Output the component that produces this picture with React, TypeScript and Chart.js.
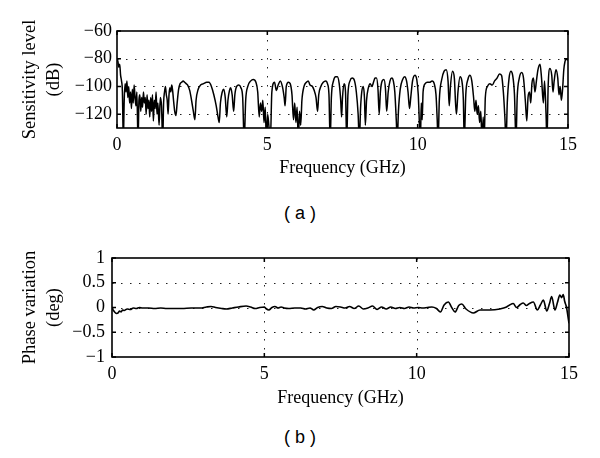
import React, { useEffect, useRef } from "react";
import { Chart, registerables } from "chart.js";

Chart.register(...registerables);

// ---------- Data: (a) Sensitivity level (dB) vs frequency (GHz) ----------
const freqA = [
  0.00, 0.03, 0.06, 0.09, 0.12, 0.15, 0.18, 0.21, 0.24, 0.27,
  0.30, 0.33, 0.36, 0.39, 0.42, 0.45, 0.48, 0.51, 0.54, 0.57,
  0.60, 0.63, 0.66, 0.70, 0.73, 0.76, 0.79, 0.82, 0.85, 0.88,
  0.91, 0.94, 0.97, 1.00, 1.03, 1.06, 1.09, 1.12, 1.15, 1.18,
  1.21, 1.24, 1.27, 1.30, 1.33, 1.36, 1.40, 1.44, 1.48, 1.52,
  1.55, 1.58, 1.61, 1.64, 1.67, 1.70, 1.73, 1.76, 1.79, 1.82,
  1.85, 1.88, 1.92, 1.96, 2.00, 2.05, 2.10, 2.15, 2.20, 2.25,
  2.30, 2.35, 2.42, 2.48, 2.54, 2.59, 2.63, 2.70, 2.78, 2.88,
  2.98, 3.06, 3.14, 3.22, 3.30, 3.36, 3.40, 3.44, 3.50, 3.55,
  3.60, 3.65, 3.69, 3.74, 3.78, 3.83, 3.88, 3.92, 3.98, 4.05,
  4.12, 4.18, 4.23, 4.28, 4.35, 4.45, 4.53, 4.62, 4.68, 4.73,
  4.77, 4.81, 4.85, 4.89, 4.93, 4.97, 5.01, 5.05, 5.10, 5.15,
  5.24, 5.30, 5.36, 5.43, 5.50, 5.56, 5.59, 5.63, 5.70, 5.76,
  5.82, 5.87, 5.91, 5.95, 5.99, 6.03, 6.07, 6.11, 6.15, 6.22,
  6.30, 6.36, 6.42, 6.50, 6.56, 6.62, 6.67, 6.71, 6.78, 6.86,
  6.94, 7.00, 7.05, 7.09, 7.13, 7.20, 7.27, 7.33, 7.39, 7.44,
  7.47, 7.50, 7.55, 7.60, 7.64, 7.68, 7.75, 7.82, 7.90, 7.96,
  8.02, 8.06, 8.10, 8.14, 8.19, 8.23, 8.26, 8.30, 8.36, 8.42,
  8.48, 8.53, 8.58, 8.63, 8.68, 8.72, 8.76, 8.82, 8.88, 8.93,
  8.97, 9.02, 9.08, 9.14, 9.19, 9.24, 9.29, 9.32, 9.36, 9.42,
  9.50, 9.57, 9.63, 9.68, 9.73, 9.77, 9.83, 9.91, 9.97, 10.02,
  10.06, 10.09, 10.12, 10.15, 10.18, 10.25, 10.32, 10.40, 10.48, 10.55,
  10.61, 10.65, 10.68, 10.72, 10.80, 10.88, 10.95, 11.01, 11.05, 11.09,
  11.16, 11.22, 11.26, 11.29, 11.34, 11.41, 11.47, 11.52, 11.55, 11.60,
  11.67, 11.74, 11.80, 11.86, 11.90, 11.94, 11.98, 12.02, 12.06, 12.10,
  12.14, 12.18, 12.21, 12.25, 12.32, 12.40, 12.48, 12.56, 12.64, 12.72,
  12.79, 12.85, 12.90, 12.94, 12.98, 13.04, 13.10, 13.16, 13.22, 13.27,
  13.31, 13.38, 13.46, 13.52, 13.58, 13.63, 13.67, 13.72, 13.76, 13.80,
  13.85, 13.90, 13.95, 14.00, 14.07, 14.12, 14.18, 14.22, 14.27, 14.30,
  14.34, 14.40, 14.46, 14.50, 14.54, 14.60, 14.66, 14.70, 14.74, 14.78,
  14.82, 14.86, 14.90, 14.94, 14.98, 15.00,
];
const levelA = [
  -80, -82, -86, -84, -92, -96, -104, -140, -110, -98,
  -104, -96, -108, -100, -112, -104, -116, -102, -112, -99,
  -108, -114, -104, -140, -110, -106, -118, -108, -115, -104,
  -112, -108, -120, -106, -116, -110, -122, -108, -118, -106,
  -125, -110, -116, -104, -120, -112, -128, -108, -114, -140,
  -112, -104, -100, -106, -110, -120, -106, -101, -104, -99,
  -103, -110, -118, -121, -112, -102, -98, -97, -96, -97,
  -98, -99, -103, -110, -118, -124, -110, -102, -99, -98,
  -97, -97, -100, -106, -114, -122, -126, -112, -104, -102,
  -108, -122, -110, -103, -101, -106, -118, -106, -100, -99,
  -101, -108, -140, -110, -100, -96, -95, -97, -104, -122,
  -112, -118, -110, -126, -115, -140, -120, -128, -140, -104,
  -97, -103, -99, -96, -100, -108, -114, -100, -97, -98,
  -106, -124, -112, -126, -115, -140, -118, -128, -110, -100,
  -97, -96, -99, -100, -103, -108, -118, -106, -100, -97,
  -96, -98, -106, -140, -108, -96, -93, -93, -98, -110,
  -122, -108, -98, -104, -140, -106, -96, -94, -96, -104,
  -120, -140, -116, -104, -100, -108, -128, -110, -101, -98,
  -100, -97, -94, -94, -102, -120, -104, -96, -95, -102,
  -118, -104, -96, -94, -96, -104, -125, -140, -118, -102,
  -95, -93, -96, -104, -116, -108, -96, -92, -95, -106,
  -128, -140, -112, -124, -104, -98, -97, -97, -96, -98,
  -106, -124, -140, -110, -95, -89, -88, -96, -114, -100,
  -89, -94, -112, -120, -104, -93, -96, -110, -140, -106,
  -95, -92, -96, -108, -118, -110, -120, -114, -126, -118,
  -140, -122, -140, -108, -100, -98, -99, -96, -94, -91,
  -92, -104, -122, -140, -112, -94, -89, -92, -106, -140,
  -108, -94, -90, -94, -110, -125, -108, -104, -112, -98,
  -94, -104, -96, -88, -84, -94, -112, -96, -120, -140,
  -100, -87, -92, -104, -96, -88, -94, -106, -100, -110,
  -102, -88, -82, -80, -81, -80,
];

// ---------- Data: (b) Phase variation (deg) vs frequency (GHz) ----------
const freqB = [
  0.00, 0.05, 0.10, 0.15, 0.20, 0.25, 0.30, 0.35, 0.40, 0.50,
  0.60, 0.70, 0.80, 0.90, 1.00, 1.20, 1.40, 1.60, 1.80, 2.00,
  2.30, 2.60, 2.90, 3.10, 3.25, 3.40, 3.60, 3.75, 3.95, 4.15,
  4.40, 4.55, 4.70, 4.85, 5.00, 5.05, 5.15, 5.25, 5.35, 5.45,
  5.55, 5.65, 5.80, 6.00, 6.20, 6.35, 6.50, 6.62, 6.75, 6.90,
  7.05, 7.20, 7.35, 7.50, 7.65, 7.80, 7.95, 8.10, 8.25, 8.40,
  8.55, 8.70, 8.85, 9.00, 9.15, 9.30, 9.45, 9.60, 9.75, 9.90,
  10.05, 10.20, 10.35, 10.50, 10.65, 10.78, 10.90, 11.04, 11.15, 11.26,
  11.38, 11.48, 11.62, 11.86, 12.08, 12.40, 12.73, 12.95, 13.05, 13.17,
  13.28, 13.40, 13.50, 13.60, 13.70, 13.83, 13.96, 14.06, 14.16, 14.27,
  14.36, 14.43, 14.54, 14.62, 14.70, 14.76, 14.81, 14.86, 14.92, 14.97,
  15.00,
];
const phaseB = [
  -0.02, -0.06, -0.10, -0.12, -0.11, -0.07, -0.09, -0.05, -0.06, -0.03,
  -0.04, -0.01, -0.02, 0.00, -0.01, -0.01, -0.02, -0.01, -0.02, -0.02,
  -0.02, -0.01, -0.01, 0.01, 0.02, 0.00, -0.02, -0.03, -0.01, 0.01,
  0.03, 0.01, -0.02, 0.00, 0.01, -0.02, -0.05, 0.00, 0.02, -0.01,
  0.01, -0.01, -0.02, -0.01, -0.01, -0.03, -0.01, -0.05, 0.00, 0.02,
  -0.01, -0.02, 0.02, 0.01, -0.01, 0.02, -0.02, 0.03, -0.03, -0.01,
  0.03, -0.04, 0.01, -0.03, 0.01, -0.02, 0.00, -0.02, 0.01, -0.01,
  0.00, -0.01, 0.00, 0.01, -0.02, -0.09, 0.05, 0.11, 0.00, -0.09,
  0.04, 0.07, -0.03, -0.11, -0.05, -0.05, -0.03, 0.01, 0.05, 0.08,
  0.00, 0.06, 0.09, 0.04, 0.08, 0.11, -0.05, 0.05, 0.15, -0.07,
  0.08, 0.22, -0.05, 0.10, 0.25, 0.20, 0.26, 0.12, 0.00, -0.20,
  -0.32,
];

// ---------- Axis ticks ----------
const freqTicks = [0, 5, 10, 15];
const levelTicks = [-120, -100, -80, -60];
const phaseTicks = [-1, -0.5, 0, 0.5, 1];

const SERIF = "'Liberation Serif', 'Times New Roman', serif";

const fmt = (v: number) => (v < 0 ? "\u2212" + String(Math.abs(v)) : String(v));

const framePlugin = {
  id: "matlabFrame",
  beforeDatasetsDraw(chart: any) {
    const { ctx, chartArea: a, scales } = chart;
    const xs = scales.x;
    const ys = scales.y;
    ctx.save();
    ctx.strokeStyle = "#222";
    ctx.lineWidth = 1;
    ctx.setLineDash([1.5, 7.5]);
    xs.ticks.forEach((t: any) => {
      if (t.value <= xs.min || t.value >= xs.max) return;
      const px = Math.round(xs.getPixelForValue(t.value)) + 0.5;
      ctx.beginPath();
      ctx.moveTo(px, a.top);
      ctx.lineTo(px, a.bottom);
      ctx.stroke();
    });
    ys.ticks.forEach((t: any) => {
      if (t.value <= ys.min || t.value >= ys.max) return;
      const py = Math.round(ys.getPixelForValue(t.value)) + 0.5;
      ctx.beginPath();
      ctx.moveTo(a.left, py);
      ctx.lineTo(a.right, py);
      ctx.stroke();
    });
    ctx.restore();
  },
  afterDatasetsDraw(chart: any) {
    const { ctx, chartArea: a, scales } = chart;
    const xs = scales.x;
    const ys = scales.y;
    ctx.save();
    ctx.setLineDash([]);
    ctx.strokeStyle = "#000";
    ctx.lineWidth = 1.5;
    const tl = 4;
    ctx.beginPath();
    xs.ticks.forEach((t: any) => {
      const px = xs.getPixelForValue(t.value);
      ctx.moveTo(px, a.bottom);
      ctx.lineTo(px, a.bottom - tl);
      ctx.moveTo(px, a.top);
      ctx.lineTo(px, a.top + tl);
    });
    ys.ticks.forEach((t: any) => {
      const py = ys.getPixelForValue(t.value);
      ctx.moveTo(a.left, py);
      ctx.lineTo(a.left + tl, py);
      ctx.moveTo(a.right, py);
      ctx.lineTo(a.right - tl, py);
    });
    ctx.stroke();
    ctx.lineWidth = 1.6;
    ctx.strokeRect(a.left, a.top, a.right - a.left, a.bottom - a.top);
    ctx.restore();
  },
};

type PanelProps = {
  xs: number[];
  ys: number[];
  yTicks: number[];
  yMin: number;
  yMax: number;
  yTitle: string[];
  top: number;
  areaLeft: number;
  areaTop: number;
  areaBottom: number;
  areaRight: number;
  yTickPad: number;
  lineWidth: number;
  tension: number;
};

const CANVAS_H = 190;

function Panel(p: PanelProps) {
  const ref = useRef<HTMLCanvasElement | null>(null);
  useEffect(() => {
    if (!ref.current) return;
    const chart = new Chart(ref.current, {
      type: "line",
      data: {
        datasets: [
          {
            data: p.xs.map((x, i) => ({ x, y: p.ys[i] })),
            borderColor: "#000",
            borderWidth: p.lineWidth,
            pointRadius: 0,
            fill: false,
            tension: p.tension,
            cubicInterpolationMode: "monotone",
          },
        ],
      },
      options: {
        animation: false,
        responsive: false,
        events: [],
        layout: {
          padding: { left: 0, top: p.areaTop, right: 600 - p.areaRight, bottom: 0 },
        },
        plugins: {
          legend: { display: false },
          tooltip: { enabled: false },
          title: { display: false },
        },
        scales: {
          x: {
            type: "linear",
            min: 0,
            max: 15,
            afterBuildTicks: (s: any) => {
              s.ticks = freqTicks.map((v) => ({ value: v }));
            },
            afterFit: (s: any) => {
              s.height = CANVAS_H - p.areaBottom;
            },
            grid: { display: false, drawTicks: false },
            border: { display: false },
            ticks: {
              color: "#000",
              padding: 6,
              maxRotation: 0,
              font: { family: SERIF, size: 18 },
              callback: (v: any) => fmt(Number(v)),
            },
            title: {
              display: true,
              text: "Frequency (GHz)",
              color: "#000",
              font: { family: SERIF, size: 18, lineHeight: 1.2 },
              padding: { top: 0, bottom: 11 },
            },
          },
          y: {
            type: "linear",
            min: p.yMin,
            max: p.yMax,
            afterBuildTicks: (s: any) => {
              s.ticks = p.yTicks.map((v) => ({ value: v }));
            },
            afterFit: (s: any) => {
              s.width = p.areaLeft;
            },
            grid: { display: false, drawTicks: false },
            border: { display: false },
            ticks: {
              color: "#000",
              padding: p.yTickPad,
              font: { family: SERIF, size: 18 },
              callback: (v: any) => fmt(Number(v)),
            },
            title: {
              display: true,
              text: p.yTitle,
              color: "#000",
              font: { family: SERIF, size: 18.5, lineHeight: 1.3 },
              padding: { top: 18, bottom: 0 },
            },
          },
        },
      },
      plugins: [framePlugin],
    } as any);
    return () => chart.destroy();
  }, []);
  return (
    <canvas
      ref={ref}
      width={600}
      height={CANVAS_H}
      style={{ position: "absolute", left: 0, top: p.top, width: 600, height: CANVAS_H, display: "block" }}
    />
  );
}

const labelStyle: React.CSSProperties = {
  position: "absolute",
  left: 0,
  width: 600,
  textAlign: "center",
  fontFamily: "'Liberation Sans', 'DejaVu Sans', sans-serif",
  fontSize: 18,
  lineHeight: "22px",
  color: "#000",
};

export default function App() {
  return (
    <div style={{ position: "absolute", left: 0, top: 0, width: 600, height: 458, background: "#fff", overflow: "hidden" }}>
      <Panel
        xs={freqA}
        ys={levelA}
        yTicks={levelTicks}
        yMin={-130}
        yMax={-60}
        yTitle={["Sensitivity level", "(dB)"]}
        top={0}
        areaLeft={117}
        areaTop={31}
        areaBottom={128}
        areaRight={568}
        yTickPad={5}
        lineWidth={1.5}
        tension={0.3}
      />
      <div style={{ ...labelStyle, top: 202 }}>( a )</div>
      <Panel
        xs={freqB}
        ys={phaseB}
        yTicks={phaseTicks}
        yMin={-1}
        yMax={1}
        yTitle={["Phase variation", "(deg)"]}
        top={230}
        areaLeft={112}
        areaTop={28}
        areaBottom={127}
        areaRight={569}
        yTickPad={7}
        lineWidth={1.6}
        tension={0.4}
      />
      <div style={{ ...labelStyle, top: 426 }}>( b )</div>
    </div>
  );
}
